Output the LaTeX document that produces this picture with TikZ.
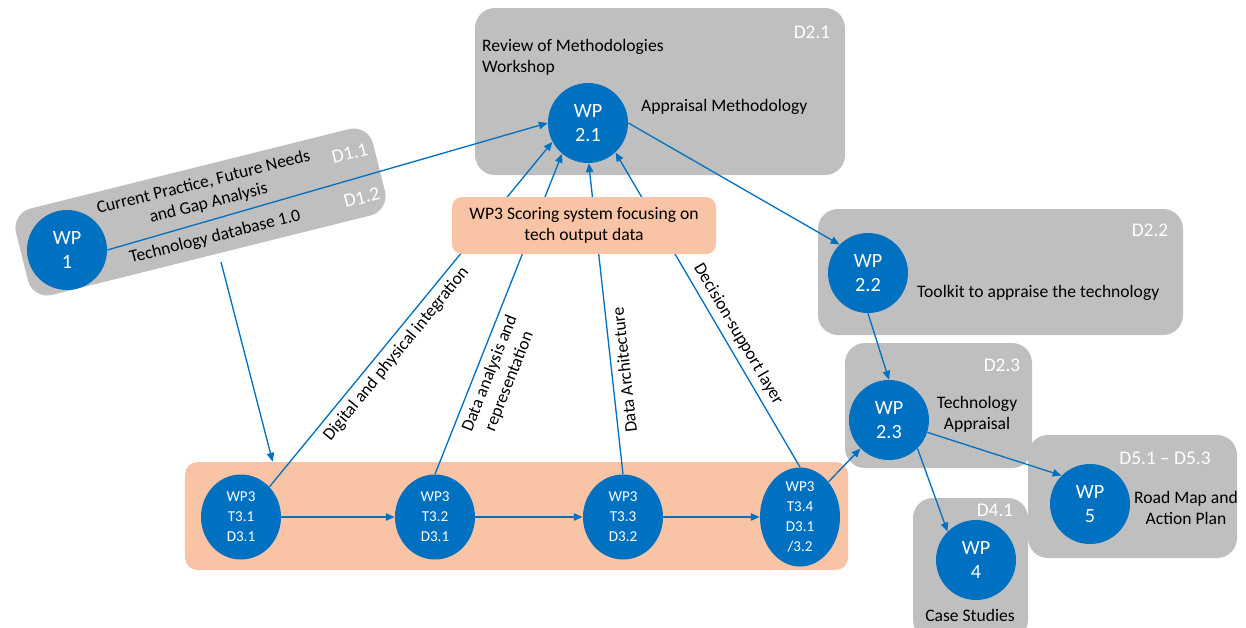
\documentclass[tikz,border=0pt]{standalone}
\usepackage{fontspec}
\setmainfont{Carlito}
\usepackage{xcolor}
\usetikzlibrary{shapes.geometric,arrows.meta,positioning,calc}
\definecolor{wpblue}{HTML}{0070C0}
\definecolor{boxgrey}{HTML}{BFBFBF}
\definecolor{salmon}{HTML}{F9C3A5}
\tikzstyle{wp circle}=[
        circle,
        fill = wpblue,
        text = white,
        minimum size = 16mm,
        inner sep = 0pt,
        align = center,
        font = \fontsize{11.5}{14}\selectfont
    ]
\tikzstyle{task oval}=[
        ellipse,
        fill = wpblue,
        text = white,
        minimum width = 16mm,
        minimum height = 17mm,
        inner sep = 0pt,
        align = center,
        font = \fontsize{8.6}{11.3}\selectfont
    ]
\tikzstyle{grey box}=[
        rectangle,
        rounded corners = 4mm,
        fill = boxgrey,
        inner sep = 0pt
    ]
\tikzstyle{salmon box}=[
        rectangle,
        rounded corners = 2.5mm,
        fill = salmon,
        inner sep = 0pt
    ]

\begin{document}
\begin{tikzpicture}[x=0.2mm, y=-0.2mm, >={Triangle[length=5pt,width=4.2pt]},
        flow/.style = {->, wpblue, line width=0.75pt},
        lab/.style = {text=black, font=\fontsize{10}{12}\selectfont},
        deliv/.style = {text=white, font=\fontsize{11}{13}\selectfont}]
        \useasboundingbox (0,0) rectangle (1246,627);
        \clip (0,0) rectangle (1246,627);

        % backgrounds
        \node[grey box, minimum width=74mm, minimum height=33.4mm] (box21) at (660,91.5) {};
        \node[grey box, minimum width=73mm, minimum height=25.2mm] (box22) at (1000.5,272) {};
        \node[grey box, minimum width=37.4mm, minimum height=25mm] (box23) at (938.5,405.5) {};
        \node[grey box, minimum width=41.8mm, minimum height=24.6mm] (box5) at (1132.5,496.5) {};
        \node[grey box, minimum width=23mm, minimum height=28.4mm] (box4) at (970.5,569) {};
        \node[grey box, rotate=14, minimum width=73.6mm, minimum height=17.8mm] (box1) at (200.5,212) {};
        \node[salmon box, minimum width=132.6mm, minimum height=21.6mm] (band) at (516.5,516) {};

        \begin{scope}[shift={(200.5,212)}, rotate=14]
            \node[lab, rotate=14, align=center] (gap) at (10,-17) {Current Practice, Future Needs\\and Gap Analysis};
            \node[lab, rotate=14] (techdb) at (8,28) {Technology database 1.0};
            \node[deliv, rotate=14] (d11) at (159,-21) {D1.1};
            \node[deliv, rotate=14] (d12) at (160,25) {D1.2};
        \end{scope}

        \node[wp circle] (wp1) at (67,250) {WP\\1};
        \node[wp circle] (wp21) at (588,123) {WP\\2.1};
        \node[wp circle] (wp22) at (868,273) {WP\\2.2};
        \node[wp circle] (wp23) at (889,420) {WP\\2.3};
        \node[wp circle] (wp4) at (976,560) {WP\\4};
        \node[wp circle] (wp5) at (1090,504) {WP\\5};

        \node[task oval] (t31) at (241,517) {WP3\\T3.1\\D3.1};
        \node[task oval] (t32) at (435,517) {WP3\\T3.2\\D3.1};
        \node[task oval] (t33) at (623,517) {WP3\\T3.3\\D3.2};
        \node[task oval] (t34) at (800,517) {WP3\\T3.4\\D3.1\\/3.2};

        \node[lab, anchor=west, align=left] (review) at (476,57.5) {Review of Methodologies\\Workshop};
        \node[lab, anchor=west] (apprmeth) at (635,107) {Appraisal Methodology};
        \node[lab, anchor=west] (toolkit) at (911,293) {Toolkit to appraise the technology};
        \node[lab, align=center] (techappr) at (977,414.5) {Technology\\Appraisal};
        \node[lab, align=center] (roadmap) at (1186,507.5) {Road Map and\\Action Plan};
        \node[lab] (casest) at (970,615) {Case Studies};
        \node[deliv] (d21) at (812,32) {D2.1};
        \node[deliv] (d22) at (1150,230) {D2.2};
        \node[deliv] (d23) at (1002,365) {D2.3};
        \node[deliv] (d41) at (995,510) {D4.1};
        \node[deliv] (d5) at (1165,458) {D5.1 -- D5.3};

        \coordinate (dbout) at (221,262);
        \draw[flow] (wp1.east) -- (wp21.west);
        \draw[flow] (dbout) -- ($(band.north west)+(88,0)$);
        \draw[flow] (t31) -- (t32);
        \draw[flow] (t32) -- (t33);
        \draw[flow] (t33) -- (t34);
        \draw[flow] (t31.north east) -- (wp21.208) node [lab, pos=0.41, sloped, below] {Digital and physical integration};
        \draw[flow] (t32.north) -- (wp21.230) node [lab, pos=0.33, sloped, below, align=center] {Data analysis and\\representation};
        \draw[flow] (t33.north) -- (wp21.271) node [lab, pos=0.33, sloped, allow upside down, below] {Data Architecture};
        \draw[flow] (t34.north) -- (wp21.313) node [lab, pos=0.40, sloped, above] {Decision-support layer};
        \draw[flow] (wp21.east) -- (wp22.north west);
        \draw[flow] (wp22.south) -- (wp23.north);
        \draw[flow] (t34.north east) -- (wp23.south west);
        \draw[flow] (wp23) -- (wp5.north west);
        \draw[flow] (wp23.south east) -- (wp4.north west);

        \node[salmon box, rounded corners=2mm, minimum width=52.8mm, minimum height=11.4mm, lab, align=center] (scoring) at (584,225.5) {WP3 Scoring system focusing on\\tech output data};
    \end{tikzpicture}
\end{document}
